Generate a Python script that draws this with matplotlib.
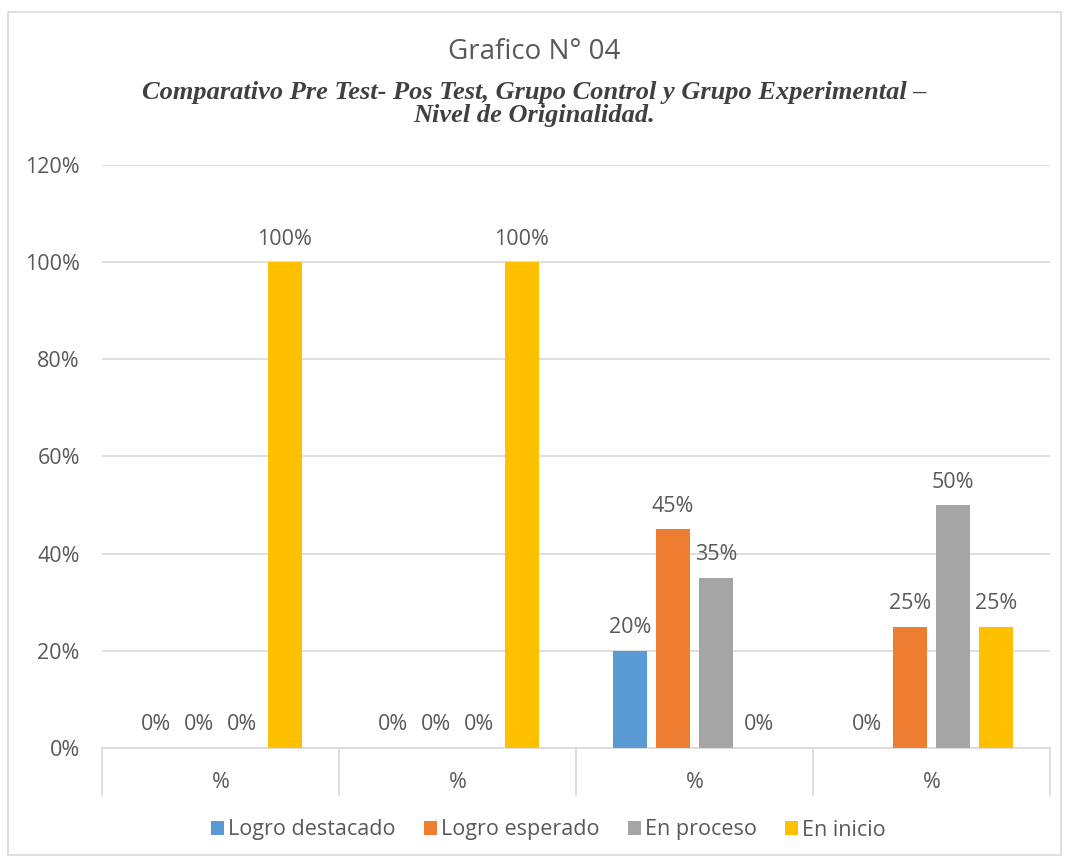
import numpy as np
import matplotlib.pyplot as plt
from matplotlib.patches import Rectangle
import matplotlib.transforms as mtransforms

# datos
categorias = ['%', '%', '%', '%']
series = ['Logro destacado', 'Logro esperado', 'En proceso', 'En inicio']
logro_destacado = [0.00, 0.00, 0.20, 0.00]
logro_esperado = [0.00, 0.00, 0.45, 0.25]
en_proceso = [0.00, 0.00, 0.35, 0.50]
en_inicio = [1.00, 1.00, 0.00, 0.25]
colores = ['#5B9BD5', '#ED7D31', '#A5A5A5', '#FFC000']

plt.rcParams['font.family'] = ['Open Sans', 'DejaVu Sans']
gris_texto = '#595959'
tam = 15.5

fig = plt.figure(figsize=(10.69, 8.6), dpi=100)
fig.patches.append(Rectangle((8 / 1069, 5 / 860), 1053 / 1069, 843 / 860,
                             transform=fig.transFigure, fill=False,
                             edgecolor='#D9D9D9', linewidth=1.2))

ax = fig.add_axes([102 / 1069, 1 - 748 / 860, 948 / 1069, 583 / 860])

x = np.arange(len(categorias))
ancho = 0.1435
paso = 0.181
valores = [logro_destacado, logro_esperado, en_proceso, en_inicio]
for i, (nombre, vals, col) in enumerate(zip(series, valores, colores)):
    pos = x + (i - 1.5) * paso
    ax.bar(pos, vals, width=ancho, color=col, label=nombre, zorder=3)
    for px, v in zip(pos, vals):
        ax.annotate(f'{v:.0%}', (px, v), xytext=(0, 9), textcoords='offset points',
                    ha='center', va='bottom', fontsize=tam, color=gris_texto)

ax.set_xlim(-0.5, 3.5)
ax.set_ylim(0, 1.2)
ax.set_yticks(np.arange(0, 1.21, 0.2))
ax.set_yticklabels([f'{t:.0%}' for t in np.arange(0, 1.21, 0.2)])
ax.set_xticks(x)
ax.set_xticklabels(categorias)
ax.tick_params(axis='both', length=0, labelsize=tam, colors=gris_texto)
ax.tick_params(axis='y', pad=16)
ax.tick_params(axis='x', pad=17)
ax.grid(axis='y', color='#D9D9D9', linewidth=1.2, zorder=0)
for s in ['top', 'right', 'left']:
    ax.spines[s].set_visible(False)
ax.spines['bottom'].set_color('#D9D9D9')
ax.spines['bottom'].set_linewidth(1.2)

# separadores de categorias
trans = mtransforms.blended_transform_factory(ax.transData, ax.transAxes)
for sx in np.arange(-0.5, 3.6, 1):
    ax.plot([sx, sx], [0, -47 / 583], transform=trans, color='#D9D9D9',
            linewidth=1.2, clip_on=False)

fig.text(0.5, 1 - 52 / 860, 'Grafico N° 04', ha='center', va='center',
         fontsize=20, color=gris_texto)
fig.text(0.5, 1 - 104 / 860,
         'Comparativo Pre Test- Pos Test, Grupo Control y Grupo Experimental –\nNivel de Originalidad.',
         ha='center', va='center', fontsize=19, color='#404040',
         family='Liberation Serif', style='italic', weight='bold', linespacing=0.95)

fig.legend(loc='center', bbox_to_anchor=(0.513, 1 - 830 / 860), ncol=4, frameon=False,
           fontsize=tam, labelcolor=gris_texto, handlelength=0.6, handleheight=0.6,
           handletextpad=0.2, columnspacing=1.3)

fig.savefig('out.png', dpi=100, facecolor='white')
